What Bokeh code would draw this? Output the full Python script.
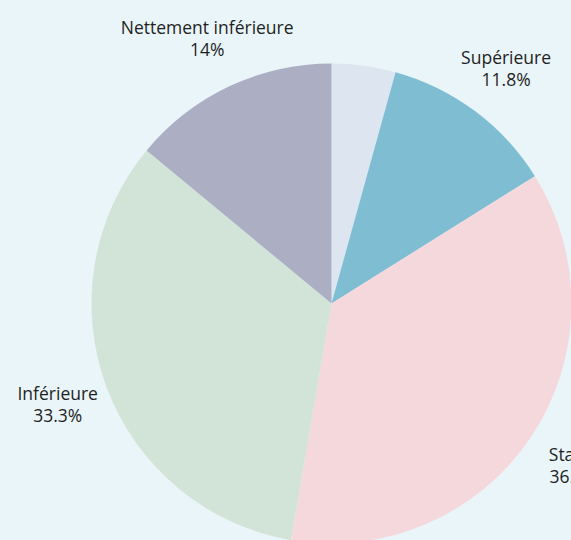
import math
from bokeh.plotting import figure
from bokeh.models import Range1d, ColumnDataSource
from bokeh.core.properties import value
from bokeh.embed import file_html
from bokeh.resources import INLINE
from bokeh.core.templates import FILE
from jinja2 import Template

categories = ["Nettement supérieure", "Supérieure", "Stable", "Inférieure", "Nettement inférieure"]
shares = [4.3, 11.8, 36.6, 33.3, 14.0]
colors = ["#dde5f0", "#7fbed2", "#f5d8dc", "#d2e3d7", "#acaec4"]
show_label = [False, True, True, True, True]

W, H = 571, 540
BG = "#e9f5f8"
cx, cy, r = 331, H - 303, 240
label_r = 292

p = figure(width=W, height=H, output_backend="svg", toolbar_location=None,
           x_range=Range1d(0, W), y_range=Range1d(0, H), min_border=0,
           background_fill_color=BG, border_fill_color=BG, outline_line_color=None)
p.axis.visible = False
p.grid.visible = False

total = sum(shares)
starts, ends, lx, ly1, ly2, t1, t2 = [], [], [], [], [], [], []
cum = 0.0
for cat, s, show in zip(categories, shares, show_label):
    a0 = math.pi / 2 - 2 * math.pi * cum / total
    a1 = math.pi / 2 - 2 * math.pi * (cum + s) / total
    starts.append(a1)
    ends.append(a0)
    mid = (a0 + a1) / 2
    if show:
        x = cx + label_r * math.cos(mid)
        y = cy + label_r * math.sin(mid)
        lx.append(x)
        ly1.append(y + 12)
        ly2.append(y - 10)
        t1.append(cat)
        t2.append(f"{s:g}%")
    cum += s

src = ColumnDataSource(dict(start=starts, end=ends, color=colors))
p.wedge(x=cx, y=cy, radius=r, start_angle="start", end_angle="end",
        fill_color="color", line_color=None, source=src)

lsrc = ColumnDataSource(dict(x=lx, y1=ly1, y2=ly2, t1=t1, t2=t2))
for yk, tk in (("y1", "t1"), ("y2", "t2")):
    p.text(x="x", y=yk, text=tk, source=lsrc, text_align="center", text_baseline="middle",
           text_font=value("Open Sans"), text_font_size="17.5px", text_color="#1f1f1f")

template = Template("""{% extends base %}
{% block preamble %}<style>html, body { margin: 0 !important; padding: 0; background: #e9f5f8; overflow: hidden; }</style>{% endblock %}""")

open("out.html", "w").write(file_html(p, INLINE, template=template, template_variables={"base": FILE}))
